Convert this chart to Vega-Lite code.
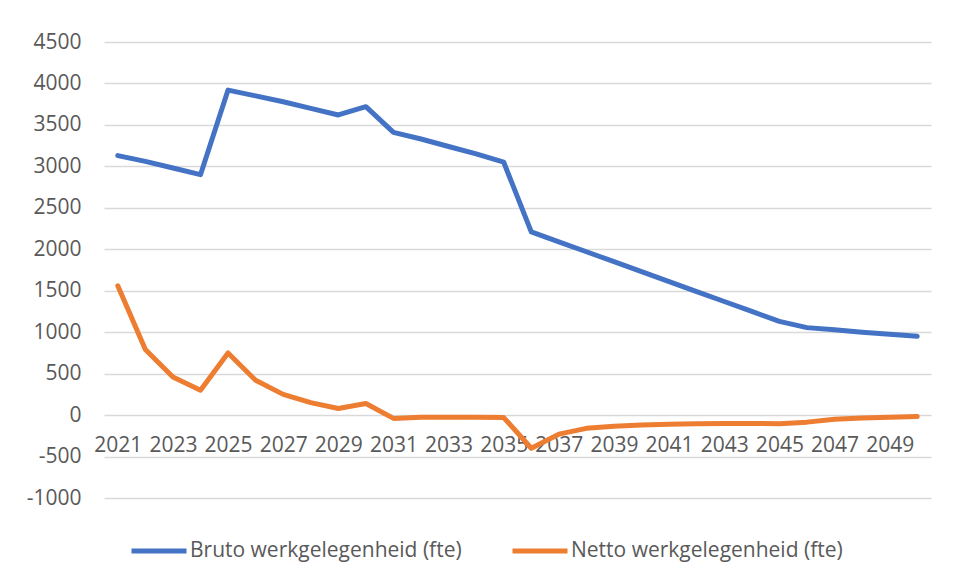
{
  "$schema": "https://vega.github.io/schema/vega-lite/v6.json",
  "autosize": "none",
  "width": 827,
  "height": 456,
  "padding": {"left": 104, "top": 42, "right": 26, "bottom": 85},
  "background": "white",
  "config": {"view": {"stroke": null}, "font": "Open Sans"},
  "datasets": {
    "bruto": [
      {"year": 2021, "value": 3130}, {"year": 2022, "value": 3060}, {"year": 2023, "value": 2980},
      {"year": 2024, "value": 2900}, {"year": 2025, "value": 3920}, {"year": 2026, "value": 3850},
      {"year": 2027, "value": 3780}, {"year": 2028, "value": 3700}, {"year": 2029, "value": 3620},
      {"year": 2030, "value": 3720}, {"year": 2031, "value": 3410}, {"year": 2032, "value": 3330},
      {"year": 2033, "value": 3240}, {"year": 2034, "value": 3150}, {"year": 2035, "value": 3050},
      {"year": 2036, "value": 2210}, {"year": 2037, "value": 2090}, {"year": 2038, "value": 1970},
      {"year": 2039, "value": 1850}, {"year": 2040, "value": 1730}, {"year": 2041, "value": 1610},
      {"year": 2042, "value": 1490}, {"year": 2043, "value": 1370}, {"year": 2044, "value": 1250},
      {"year": 2045, "value": 1130}, {"year": 2046, "value": 1055}, {"year": 2047, "value": 1030},
      {"year": 2048, "value": 1000}, {"year": 2049, "value": 975}, {"year": 2050, "value": 950}
    ],
    "netto": [
      {"year": 2021, "value": 1560}, {"year": 2022, "value": 790}, {"year": 2023, "value": 460},
      {"year": 2024, "value": 300}, {"year": 2025, "value": 750}, {"year": 2026, "value": 420},
      {"year": 2027, "value": 250}, {"year": 2028, "value": 150}, {"year": 2029, "value": 80},
      {"year": 2030, "value": 140}, {"year": 2031, "value": -40}, {"year": 2032, "value": -25},
      {"year": 2033, "value": -25}, {"year": 2034, "value": -25}, {"year": 2035, "value": -30},
      {"year": 2036, "value": -400}, {"year": 2037, "value": -230}, {"year": 2038, "value": -160},
      {"year": 2039, "value": -135}, {"year": 2040, "value": -120}, {"year": 2041, "value": -110},
      {"year": 2042, "value": -105}, {"year": 2043, "value": -100}, {"year": 2044, "value": -100},
      {"year": 2045, "value": -105}, {"year": 2046, "value": -85}, {"year": 2047, "value": -50},
      {"year": 2048, "value": -35}, {"year": 2049, "value": -25}, {"year": 2050, "value": -18}
    ]
  },
  "layer": [
    {
      "data": {"name": "bruto"},
      "transform": [{"calculate": "'Bruto werkgelegenheid (fte)'", "as": "series"}],
      "mark": {"type": "line", "strokeWidth": 5, "strokeCap": "round", "strokeJoin": "round"},
      "encoding": {
        "x": {"field": "year", "type": "ordinal"},
        "y": {"field": "value", "type": "quantitative"},
        "color": {"field": "series", "type": "nominal"}
      }
    },
    {
      "data": {"name": "netto"},
      "transform": [{"calculate": "'Netto werkgelegenheid (fte)'", "as": "series"}],
      "mark": {"type": "line", "strokeWidth": 5, "strokeCap": "round", "strokeJoin": "round"},
      "encoding": {
        "x": {"field": "year", "type": "ordinal"},
        "y": {"field": "value", "type": "quantitative"},
        "color": {"field": "series", "type": "nominal"}
      }
    }
  ],
  "encoding": {
    "x": {
      "field": "year", "type": "ordinal",
      "scale": {"type": "point", "padding": 0.5},
      "axis": {
        "title": null, "orient": "bottom", "offset": -83, "domain": false, "ticks": false, "grid": false,
        "labelAngle": 0, "labelFontSize": 21, "labelColor": "#595959", "labelPadding": 19,
        "values": [2021, 2023, 2025, 2027, 2029, 2031, 2033, 2035, 2037, 2039, 2041, 2043, 2045, 2047, 2049],
        "zindex": 0
      }
    },
    "y": {
      "field": "value", "type": "quantitative",
      "scale": {"domain": [-1000, 4500], "nice": false, "zero": false},
      "axis": {
        "title": null, "values": [-1000, -500, 0, 500, 1000, 1500, 2000, 2500, 3000, 3500, 4000, 4500],
        "labelExpr": "datum.value < 0 ? '-' + abs(datum.value) : '' + datum.value",
        "domain": false, "ticks": false, "grid": true, "gridColor": "#d9d9d9", "gridWidth": 1.3,
        "labelFontSize": 21, "labelColor": "#595959", "labelPadding": 23
      }
    },
    "color": {
      "field": "series", "type": "nominal",
      "scale": {"domain": ["Bruto werkgelegenheid (fte)", "Netto werkgelegenheid (fte)"], "range": ["#4472C4", "#ED7D31"]},
      "legend": {
        "title": null, "orient": "none", "legendX": 25, "legendY": 479, "direction": "horizontal",
        "symbolType": "stroke", "symbolSize": 3025, "symbolStrokeWidth": 5,
        "labelFontSize": 21, "labelColor": "#595959", "labelOffset": 1, "labelLimit": 500,
        "columnPadding": 40
      }
    }
  }
}
